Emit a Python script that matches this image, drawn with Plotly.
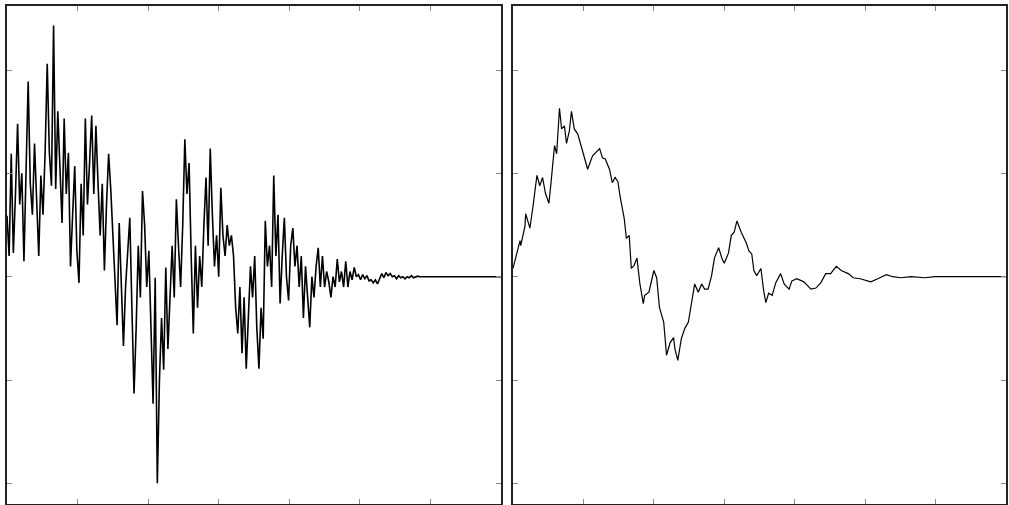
import numpy as np
import plotly.graph_objects as go
from plotly.subplots import make_subplots

# ---- left panel: acceleration-like record, uniform step ----
left_dt = 0.03
left_values = [
    0.59, 0.20, 1.19, 0.23, 0.80, 1.48, 0.70, 1.00, 0.15, 1.20,
    1.89, 0.90, 0.60, 1.29, 0.70, 0.20, 0.98, 0.60, 1.20, 2.06,
    1.20, 0.88, 2.43, 0.85, 1.60, 1.00, 0.52, 1.53, 0.80, 1.20,
    0.10, 0.60, 1.07, 0.25, -0.06, 0.90, 0.40, 1.53, 0.70, 1.10,
    1.56, 0.80, 1.46, 0.90, 0.40, 0.90, 0.06, 0.70, 1.19, 0.85,
    0.40, 0.10, -0.47, 0.52, -0.20, -0.67, -0.10, 0.30, 0.57, -0.30,
    -1.13, -0.50, 0.30, -0.20, 0.83, 0.50, -0.10, 0.25, -0.60, -1.23,
    -0.01, -2.00, -1.00, -0.40, -0.90, 0.09, -0.70, -0.20, 0.30, -0.20,
    0.75, 0.30, -0.10, 0.50, 1.33, 0.80, 1.10, 0.20, -0.55, 0.30,
    -0.30, 0.20, -0.10, 0.50, 0.96, 0.30, 1.24, 0.60, 0.10, 0.40,
    0.00, 0.86, 0.40, 0.20, 0.50, 0.30, 0.40, 0.20, -0.30, -0.55,
    -0.10, -0.74, -0.20, -0.89, -0.30, 0.10, -0.20, 0.20, -0.50, -0.89,
    -0.30, -0.60, 0.54, 0.10, 0.30, -0.10, 0.98, 0.20, 0.60, -0.26,
    0.20, 0.57, 0.00, -0.23, 0.30, 0.47, 0.10, 0.30, -0.10, 0.20,
    -0.40, 0.10, -0.20, -0.49, 0.00, -0.20, 0.10, 0.28, -0.10, 0.20,
    -0.10, 0.05, -0.05, -0.20, 0.00, -0.10, 0.17, -0.05, 0.05, -0.10,
    0.15, -0.10, 0.05, -0.03, 0.09, 0.00, 0.02, -0.03, 0.02, -0.02,
    0.01, -0.04, -0.03, -0.06, -0.03, -0.07, -0.02, 0.03, -0.01, 0.04,
    0.01, 0.03, 0.00, 0.01, -0.02, 0.01, -0.01, 0.00, -0.02, 0.00,
    -0.01, 0.01, -0.01, 0.00, 0.005, 0.00,
]
left_end_time = 7.0
left_end_value = 0.0

# ---- right panel: displacement-like record ----
right_time = [
    0.00, 0.04, 0.10, 0.11, 0.17, 0.18, 0.21, 0.24, 0.28, 0.31,
    0.34, 0.38, 0.42, 0.46, 0.51, 0.54, 0.56, 0.59, 0.62, 0.65,
    0.66, 0.69, 0.73, 0.76, 0.80, 0.83, 0.87, 0.92, 0.99, 1.06,
    1.13, 1.17, 1.23, 1.27, 1.31, 1.37, 1.41, 1.45, 1.49, 1.52,
    1.58, 1.61, 1.65, 1.68, 1.72, 1.76, 1.80, 1.85, 1.87, 1.93,
    2.00, 2.04, 2.08, 2.14, 2.18, 2.23, 2.28, 2.30, 2.34, 2.39,
    2.44, 2.49, 2.54, 2.58, 2.63, 2.68, 2.72, 2.77, 2.82, 2.86,
    2.92, 2.97, 3.00, 3.06, 3.10, 3.14, 3.18, 3.24, 3.31, 3.35,
    3.39, 3.42, 3.46, 3.52, 3.56, 3.59, 3.63, 3.68, 3.73, 3.80,
    3.85, 3.92, 3.96, 4.03, 4.13, 4.23, 4.30, 4.37, 4.44, 4.51,
    4.59, 4.66, 4.76, 4.83, 4.93, 5.01, 5.08, 5.18, 5.30, 5.39,
    5.51, 5.65, 5.85, 5.99, 6.45, 7.00,
]
right_values = [
    0.08, 0.20, 0.35, 0.30, 0.49, 0.61, 0.54, 0.47, 0.66, 0.81,
    0.98, 0.88, 0.96, 0.81, 0.71, 0.91, 1.05, 1.27, 1.19, 1.46,
    1.63, 1.43, 1.46, 1.29, 1.41, 1.60, 1.43, 1.38, 1.20, 1.04,
    1.17, 1.20, 1.24, 1.15, 1.14, 1.04, 0.91, 0.96, 0.92, 0.78,
    0.56, 0.37, 0.40, 0.08, 0.11, 0.18, -0.06, -0.26, -0.18, -0.15,
    0.06, -0.01, -0.30, -0.44, -0.76, -0.64, -0.59, -0.70, -0.81, -0.60,
    -0.50, -0.44, -0.25, -0.07, -0.15, -0.07, -0.12, -0.12, 0.01, 0.18,
    0.28, 0.17, 0.13, 0.23, 0.40, 0.43, 0.54, 0.43, 0.33, 0.25,
    0.22, 0.06, 0.01, 0.08, -0.14, -0.25, -0.16, -0.18, -0.06, 0.03,
    -0.07, -0.12, -0.04, -0.02, -0.05, -0.12, -0.11, -0.06, 0.03, 0.03,
    0.10, 0.06, 0.03, -0.01, -0.02, -0.04, -0.05, -0.02, 0.02, 0.00,
    -0.01, 0.00, -0.01, 0.00, 0.00, 0.00,
]

x_ticks = [1, 2, 3, 4, 5, 6]
y_ticks = [-2, -1, 0, 1, 2]
x_range = [0, 7]
y_range = [-2.2, 2.62]

left_time = list(np.arange(len(left_values)) * left_dt) + [left_end_time]
left_y = left_values + [left_end_value]

fig = make_subplots(rows=1, cols=2, horizontal_spacing=0.01)
fig.add_trace(go.Scatter(x=left_time, y=left_y, mode="lines",
                         line=dict(color="black", width=1.6), showlegend=False),
              row=1, col=1)
fig.add_trace(go.Scatter(x=right_time, y=right_values, mode="lines",
                         line=dict(color="black", width=1.2), showlegend=False),
              row=1, col=2)

axis_style = dict(showgrid=False, zeroline=False, showline=True, mirror="ticks",
                  linecolor="#222222", linewidth=1.5, ticks="inside", ticklen=5,
                  tickcolor="#888888", tickwidth=1, showticklabels=False)

fig.update_xaxes(range=x_range, tickvals=x_ticks, **axis_style)
fig.update_yaxes(range=y_range, tickvals=y_ticks, **axis_style)
fig.update_layout(
    xaxis=dict(domain=[0, 0.4945]),
    xaxis2=dict(domain=[0.5065, 1.0]),
    width=1009, height=505,
    margin=dict(l=7, r=1, t=6, b=1),
    paper_bgcolor="white", plot_bgcolor="white",
)
fig.write_html("out.html", config={"displayModeBar": False},
               post_script="document.body.style.margin='0';document.body.style.overflow='hidden';")
